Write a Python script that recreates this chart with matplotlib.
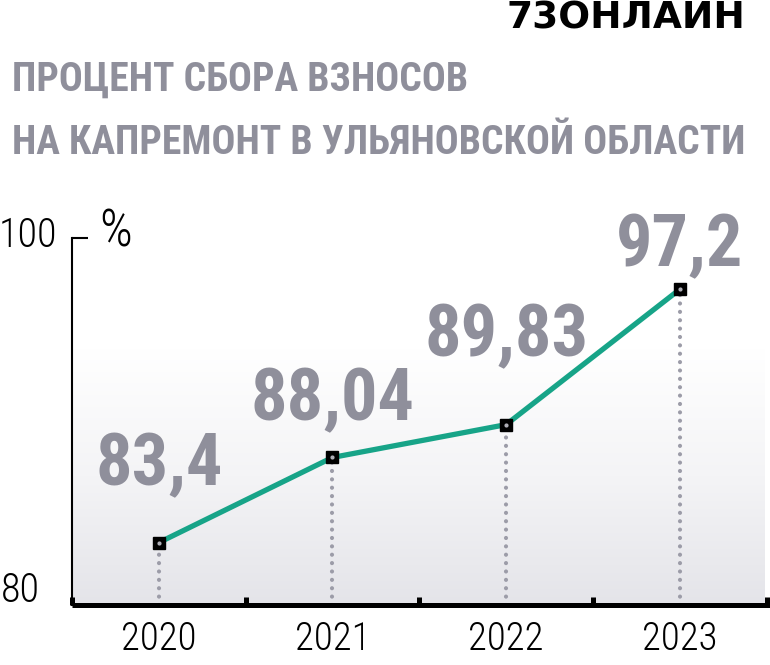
import matplotlib
matplotlib.use('Agg')
import matplotlib.pyplot as plt
import numpy as np
from matplotlib import font_manager
from matplotlib.colors import LinearSegmentedColormap

years = ['2020', '2021', '2022', '2023']
values = [83.4, 88.04, 89.83, 97.2]
value_labels = ['83,4', '88,04', '89,83', '97,2']
title_lines = ['ПРОЦЕНТ СБОРА ВЗНОСОВ', 'НА КАПРЕМОНТ В УЛЬЯНОВСКОЙ ОБЛАСТИ']

installed = {f.name for f in font_manager.fontManager.ttflist}
narrow = next((n for n in ['Liberation Sans Narrow', 'Roboto Condensed', 'DejaVu Sans']
               if n in installed), 'DejaVu Sans')

GREY = '#8f8f9b'
TEAL = '#17a488'

fig = plt.figure(figsize=(7.7, 6.65), dpi=100)
W, H = 770, 665
ax = fig.add_axes([72 / W, 60 / H, (770 - 72) / W, (605 - 238) / H])
ax.set_xlim(-0.5, 3.52)
ax.set_ylim(80, 100)

x = np.arange(len(years))

# background gradient
grad = np.linspace(0, 1, 256).reshape(-1, 1)
cmap = LinearSegmentedColormap.from_list('bg', ['#e4e4e9', '#f4f4f6', '#ffffff'])
ax.imshow(grad, extent=[-0.5, 3.49, 80, 94], origin='lower', aspect='auto',
          cmap=cmap, zorder=0)

# dotted drop lines
for xi, v in zip(x, values):
    ax.plot([xi, xi], [80, v], color='#9c9ca8', lw=3.0, linestyle=(0, (0.01, 2.0)),
            dash_capstyle='round', zorder=1)

ax.plot(x, values, color=TEAL, lw=3.8, zorder=2, solid_capstyle='round')
ax.plot(x, values, 's', color='black', markersize=9, zorder=3)
ax.plot(x, values, 'o', color='#b0b0b8', markersize=2, zorder=4)

offsets = [55, 41, 63, 31]
for xi, v, lab, off in zip(x, values, value_labels, offsets):
    ax.annotate(lab, (xi, v), xytext=(0, off), textcoords='offset points',
                ha='center', va='center', fontsize=52, color=GREY,
                family=narrow, fontweight='bold', annotation_clip=False)

for s in ['top', 'right']:
    ax.spines[s].set_visible(False)
ax.spines['left'].set_linewidth(1.5)
ax.spines['bottom'].set_linewidth(3.6)
ax.spines['bottom'].set_capstyle('butt')

ax.set_xticks(x)
ax.set_xticklabels(years, family=narrow, fontweight='light', fontsize=28)
ax.tick_params(axis='x', which='major', length=0, pad=11)
ax.set_xticks(np.arange(-0.5, 4, 1.0), minor=True)
ax.tick_params(axis='x', which='minor', direction='in', length=6, width=3.6, color='black')

ax.set_yticks([100])
ax.set_yticklabels([])
ax.tick_params(axis='y', direction='in', length=11.5, width=1.5, color='black')

fig.text(57 / W, 1 - 236 / H, '100', ha='right', va='center', fontsize=29,
         family=narrow, fontweight='light')
fig.text(40 / W, 1 - 591 / H, '80', ha='right', va='center', fontsize=29,
         family=narrow, fontweight='light')
fig.text(99 / W, 1 - 232 / H, '%', ha='left', va='center', fontsize=37,
         family=narrow, fontweight='light')

fig.text(12 / W, 1 - 80 / H, title_lines[0], ha='left', va='center', fontsize=28.5,
         family=narrow, fontweight='bold', color=GREY)
fig.text(12 / W, 1 - 143 / H, title_lines[1], ha='left', va='center', fontsize=28.5,
         family=narrow, fontweight='bold', color=GREY)

fig.text(745 / W, 1 - 18 / H, '73ОНЛАЙН', ha='right', va='center', fontsize=27,
         family='DejaVu Sans', fontweight='bold', color='black')

fig.savefig('out.png', dpi=100)
